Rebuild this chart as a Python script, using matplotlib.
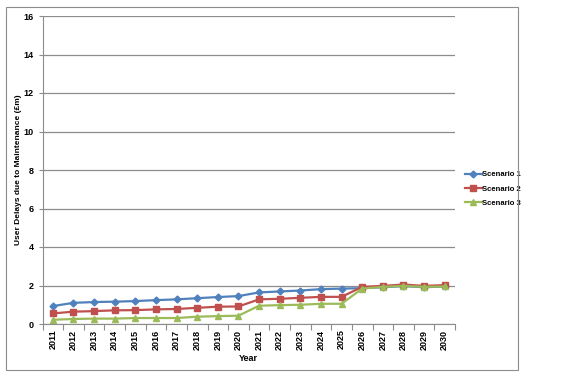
import numpy as np
import matplotlib
matplotlib.use("Agg")
import matplotlib.pyplot as plt
from matplotlib.patches import Rectangle

# ----- Data -----

years = [str(y) for y in range(2011, 2031)]

scenario_1 = [0.93, 1.10, 1.14, 1.16, 1.19, 1.24, 1.28, 1.34, 1.40, 1.45,
              1.64, 1.69, 1.74, 1.81, 1.84, 1.86, 1.91, 1.97, 1.91, 1.95]
scenario_2 = [0.55, 0.64, 0.67, 0.71, 0.72, 0.76, 0.78, 0.84, 0.90, 0.91,
              1.28, 1.31, 1.36, 1.41, 1.41, 1.93, 1.98, 2.05, 1.98, 2.02]
scenario_3 = [0.22, 0.26, 0.28, 0.28, 0.31, 0.31, 0.31, 0.38, 0.41, 0.43,
              0.95, 0.98, 1.00, 1.05, 1.05, 1.84, 1.93, 1.98, 1.93, 1.95]

series_names = ["Scenario 1", "Scenario 2", "Scenario 3"]
series_colors = ["#4F81BD", "#C0504D", "#9BBB59"]
series_markers = ["D", "s", "^"]
series_sizes = [3.5, 4.5, 4.5]

# ----- Figure -----

plt.rcParams["font.family"] = ["Liberation Sans", "DejaVu Sans"]

fig = plt.figure(figsize=(5.7, 3.77), dpi=100)
W, H = 570, 377
ax = fig.add_axes([42.5 / W, 1 - 324 / H, (455 - 42.5) / W, (324 - 16) / H])

# outer chart border
fig.patches.append(Rectangle((6 / W, 7 / H), (518 - 6) / W, (370 - 7) / H,
                             transform=fig.transFigure, fill=False,
                             edgecolor="#8c8c8c", linewidth=0.8))

x = np.arange(len(years))
for vals, name, col, mk, ms in zip([scenario_1, scenario_2, scenario_3],
                                   series_names, series_colors,
                                   series_markers, series_sizes):
    ax.plot(x, vals, color=col, marker=mk, markersize=ms, linewidth=1.6,
            label=name)

ax.set_xlim(-0.5, len(years) - 0.5)
ax.set_ylim(0, 16)
ax.set_yticks(np.arange(0, 17, 2))
ax.yaxis.grid(True, color="#8c8c8c", linewidth=0.9)
ax.set_axisbelow(True)

ax.set_xticks(x)
ax.set_xticklabels(years, rotation=90, fontsize=6.5, fontweight="bold")
ax.set_xticks(np.arange(-0.5, len(years)), minor=True)
ax.tick_params(axis="x", which="major", length=0, pad=4)
ax.tick_params(axis="x", which="minor", length=4, color="#8c8c8c", width=0.8)
ax.tick_params(axis="y", labelsize=6.5, length=3, color="#8c8c8c", width=0.8)
for lab in ax.get_yticklabels():
    lab.set_fontweight("bold")

for side in ["top", "right"]:
    ax.spines[side].set_visible(False)
for side in ["left", "bottom"]:
    ax.spines[side].set_color("#8c8c8c")
    ax.spines[side].set_linewidth(0.8)

ax.set_xlabel("Year", fontsize=6.5, fontweight="bold", labelpad=3)
ax.set_ylabel("User Delays due to Maintenance (\u00a3m)", fontsize=6,
              fontweight="bold", labelpad=1)

ax.legend(loc="center left", bbox_to_anchor=(458 / W, 1 - 189 / H),
          bbox_transform=fig.transFigure, frameon=False,
          handlelength=2.2, handletextpad=0.1, labelspacing=0.9,
          prop={"weight": "bold", "size": 5.5})

fig.savefig("out.png", dpi=100)
